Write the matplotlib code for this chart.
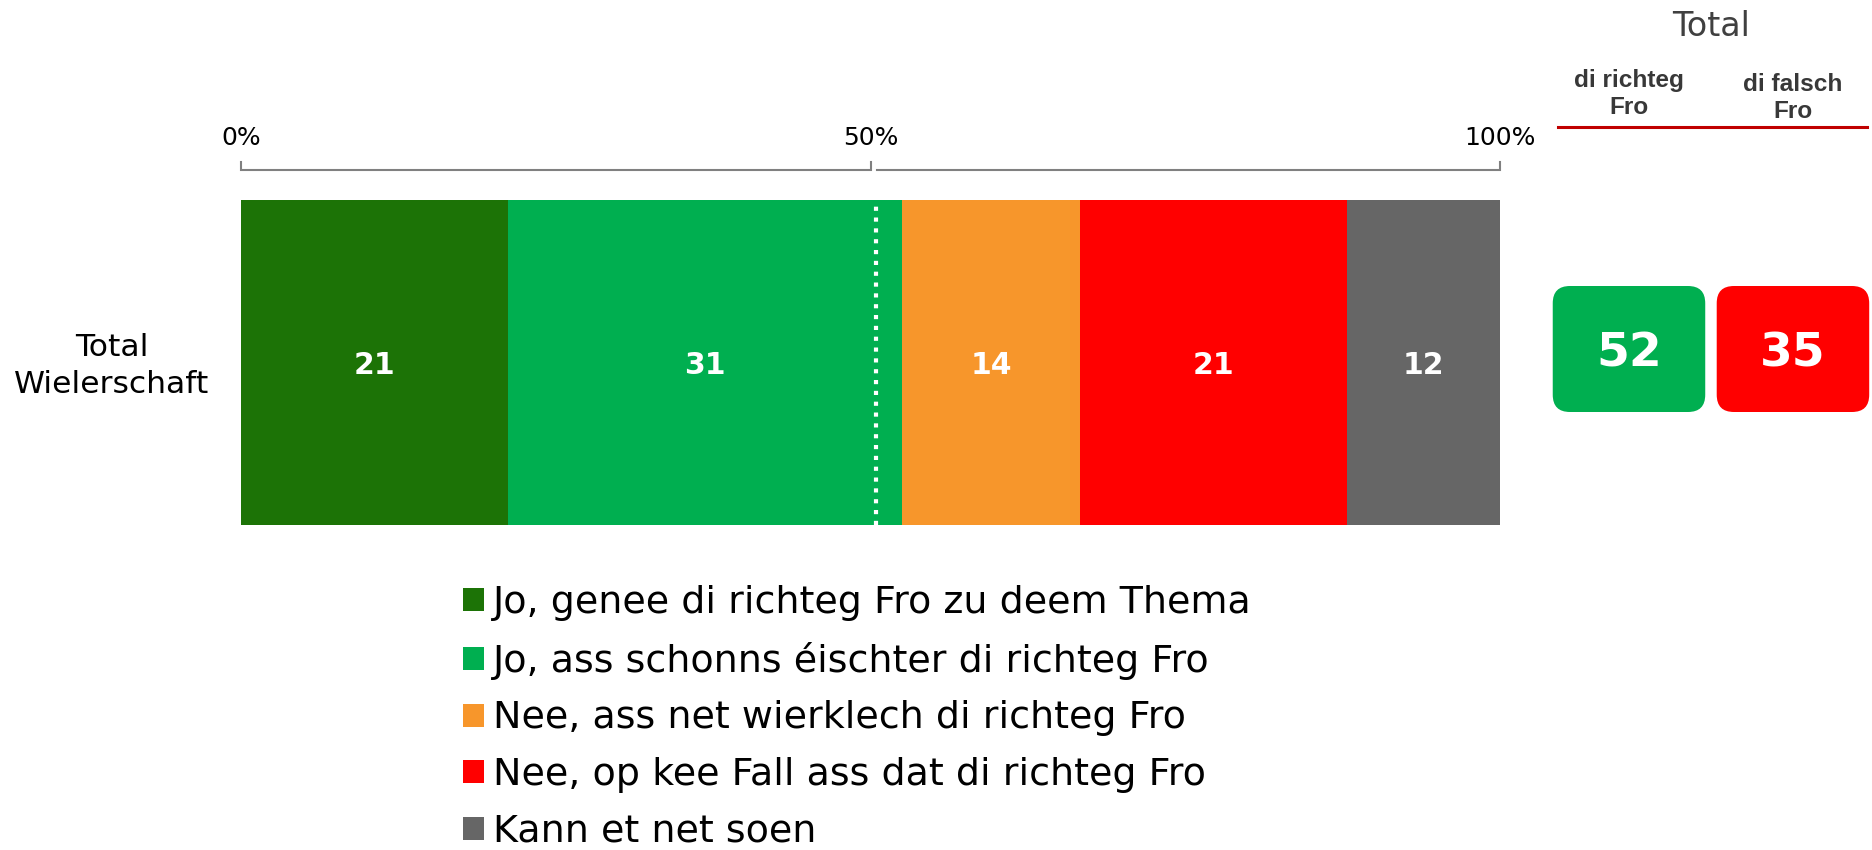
import matplotlib
matplotlib.use("Agg")
import matplotlib.pyplot as plt
import matplotlib.transforms as mtransforms
from matplotlib.patches import Patch, FancyBboxPatch
from matplotlib.lines import Line2D

# data
categories = ["Jo, genee di richteg Fro zu deem Thema",
              "Jo, ass schonns éischter di richteg Fro",
              "Nee, ass net wierklech di richteg Fro",
              "Nee, op kee Fall ass dat di richteg Fro",
              "Kann et net soen"]
values = [21, 31, 14, 21, 12]
colors = ["#1C7306", "#00AF50", "#F7962B", "#FF0000", "#666666"]
row_label = "Total\nWielerschaft"
tick_pos = [0, 50, 100]
tick_labels = ["0%", "50%", "100%"]
total_title = "Total"
total_headers = ["di richteg\nFro", "di falsch\nFro"]
total_values = [52, 35]
total_colors = ["#00AF50", "#FF0000"]
mid_line = 50.4

W, H = 1872, 850
fig = plt.figure(figsize=(W / 100, H / 100), dpi=100)

# main stacked bar
ax = fig.add_axes([241 / W, 1 - 525 / H, (1500 - 241) / W, 325 / H])
shares = [v * 100 / sum(values) for v in values]
left = 0
for v, s, c in zip(values, shares, colors):
    ax.barh(0, s, left=left, height=1, color=c, linewidth=0)
    ax.text(left + s / 2, 0, str(v), ha="center", va="center_baseline", color="white",
            fontsize=21.5, fontweight="bold")
    left += s
ax.set_xlim(0, 100)
ax.set_ylim(-0.5, 0.5)
ax.axis("off")
ax.axvline(mid_line, color="white", lw=3, linestyle=(0, (1, 1.6)))

# bracket scale on top
trans = mtransforms.blended_transform_factory(ax.transData, ax.transAxes)
yb, yt = 1.0923, 1.117
ax.plot([0, 0, 50, 50], [yt, yb, yb, yt], color="#808080", lw=1.5,
        transform=trans, clip_on=False, solid_joinstyle="miter")
ax.plot([50.55, 100, 100], [yb, yb, yt], color="#808080", lw=1.5,
        transform=trans, clip_on=False, solid_joinstyle="miter")
for p, lab in zip(tick_pos, tick_labels):
    ax.text(p, 1.192, lab, transform=trans, ha="center", va="center", fontsize=18)

fig.text(112 / W, 1 - 366 / H, row_label, ha="center", va="center", fontsize=22.6,
         linespacing=1.38)

# right panel with totals
ax2 = fig.add_axes([1547 / W, 1 - 412 / H, 325 / W, 126 / H])
ax2.set_xlim(-0.5, 1.482)
ax2.set_ylim(0, 1)
ax2.axis("off")
asp = (1 / 126) / (1 / 164)
for i, (v, c) in enumerate(zip(total_values, total_colors)):
    box = FancyBboxPatch((i - 0.465, 0), 0.93, 1,
                         boxstyle="round,pad=0,rounding_size=0.105",
                         mutation_aspect=asp, facecolor=c, edgecolor="none",
                         clip_on=False)
    ax2.add_patch(box)
    ax2.text(i, 0.5, str(v), ha="center", va="center_baseline", color="white",
             fontsize=34, fontweight="bold")

trans2 = mtransforms.blended_transform_factory(ax2.transData, fig.transFigure)
header_y = [1 - 94 / H, 1 - 98 / H]
for i, (hd, hy) in enumerate(zip(total_headers, header_y)):
    fig.text(i, hy, hd, transform=trans2, ha="center", va="center",
             fontsize=17.6, fontweight="bold", family="Liberation Sans",
             color="#383838", linespacing=1.2)
fig.text(0.5, 1 - 26 / H, total_title, transform=trans2, ha="center", va="center",
         fontsize=24, color="#404040")
fig.add_artist(Line2D([1558 / W, 1867 / W], [1 - 127 / H, 1 - 127 / H],
                      color="#C00000", lw=2.2, transform=fig.transFigure))

# legend
handles = [Patch(facecolor=c, edgecolor="none") for c in colors]
fig.legend(handles, categories, loc="upper left", bbox_to_anchor=(463 / W, 1 - 585 / H),
           frameon=False, fontsize=27.4, handlelength=0.553, handleheight=0.553,
           handletextpad=0.24, labelspacing=0.545, borderpad=0, borderaxespad=0)

fig.savefig("out.png", dpi=100)
